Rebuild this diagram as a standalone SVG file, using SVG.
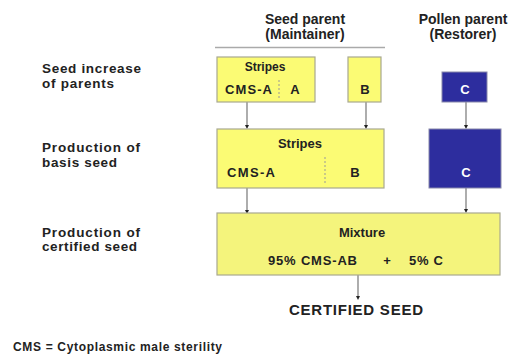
<svg xmlns="http://www.w3.org/2000/svg" width="513" height="356" viewBox="0 0 513 356">
<style>
text{font-family:"Liberation Sans",Arial,sans-serif;font-weight:bold;fill:#222}
.lbl{font-size:13.5px}
.hd{font-size:14px;text-anchor:middle}
.bx{font-size:13px}
.yl{fill:#fbfb74;stroke:#a8a890;stroke-width:1.2}
.yl2{fill:#f4f47c;stroke:#a8a890;stroke-width:1.2}
.bl{fill:#2d2d9e;stroke:#8888aa;stroke-width:1}
.dash{stroke:#999;stroke-width:1;stroke-dasharray:2,2}
.cn{stroke:#777;stroke-width:1.2;fill:none;marker-end:url(#dot)}
</style>
<defs>
<marker id="dot" viewBox="0 0 4 4" refX="2" refY="2" markerWidth="4" markerHeight="4" markerUnits="userSpaceOnUse"><path d="M0,0 L4,0 L2,4 Z" fill="#222"/></marker>
</defs>
<rect width="513" height="356" fill="#fff"/>
<g id="labels">
<text class="lbl" x="42" y="73" textLength="99" lengthAdjust="spacing">Seed increase</text>
<text class="lbl" x="42" y="88" textLength="72" lengthAdjust="spacing">of parents</text>
<text class="lbl" x="42" y="152" textLength="98" lengthAdjust="spacing">Production of</text>
<text class="lbl" x="42" y="167" textLength="75" lengthAdjust="spacing">basis seed</text>
<text class="lbl" x="42" y="237" textLength="98" lengthAdjust="spacing">Production of</text>
<text class="lbl" x="42" y="251" textLength="95" lengthAdjust="spacing">certified seed</text>
<text style="font-size:12px" x="13" y="351" textLength="209" lengthAdjust="spacing">CMS = Cytoplasmic male sterility</text>
</g>
<g id="header-seed">
<text class="hd" x="305" y="24">Seed parent</text>
<text class="hd" x="305" y="39">(Maintainer)</text>
<line x1="215" y1="47.5" x2="385" y2="47.5" stroke="#aaa" stroke-width="1.5"/>
</g>
<g id="header-pollen">
<text class="hd" x="463" y="24">Pollen parent</text>
<text class="hd" x="463" y="39">(Restorer)</text>
</g>
<g id="connectors">
<line class="cn" x1="247" y1="102" x2="247" y2="127"/>
<line class="cn" x1="366" y1="102" x2="366" y2="127"/>
<line class="cn" x1="466" y1="102" x2="466" y2="127"/>
<line class="cn" x1="247" y1="188" x2="247" y2="212"/>
<line class="cn" x1="466" y1="188" x2="466" y2="211"/>
<line class="cn" x1="358" y1="275" x2="358" y2="298"/>
</g>
<g id="node-stripes1">
<rect class="yl" x="217" y="57" width="98" height="45"/>
<text class="bx" x="265" y="71" text-anchor="middle" style="font-size:12px">Stripes</text>
<text class="bx" x="225" y="94" textLength="47" lengthAdjust="spacing">CMS-A</text>
<line class="dash" x1="279" y1="80" x2="279" y2="100"/>
<text class="bx" x="295" y="94" text-anchor="middle">A</text>
</g>
<g id="node-b1">
<rect class="yl" x="348" y="57" width="33" height="45"/>
<text class="bx" x="365" y="94" text-anchor="middle">B</text>
</g>
<g id="node-c1">
<rect class="bl" x="442" y="72" width="45" height="30"/>
<text class="bx" x="465" y="94" text-anchor="middle" style="fill:#fff">C</text>
</g>
<g id="node-stripes2">
<rect class="yl" x="217" y="129" width="167" height="59"/>
<text class="bx" x="300" y="148" text-anchor="middle">Stripes</text>
<text class="bx" x="227" y="177" textLength="48" lengthAdjust="spacing">CMS-A</text>
<line class="dash" x1="325" y1="157" x2="325" y2="183"/>
<text class="bx" x="355" y="177" text-anchor="middle">B</text>
</g>
<g id="node-c2">
<rect class="bl" x="429" y="129" width="72" height="59"/>
<text class="bx" x="466" y="177" text-anchor="middle" style="fill:#fff">C</text>
</g>
<g id="node-mixture">
<rect class="yl2" x="217" y="213" width="283" height="62"/>
<text class="bx" x="362" y="237" text-anchor="middle">Mixture</text>
<text class="bx" x="268" y="265" textLength="89" lengthAdjust="spacing">95% CMS-AB</text>
<text class="bx" x="387" y="265" text-anchor="middle">+</text>
<text class="bx" x="409" y="265" textLength="34" lengthAdjust="spacing">5% C</text>
</g>
<g id="node-certified">
<text x="356" y="315" text-anchor="middle" style="font-size:15px" textLength="134" lengthAdjust="spacing">CERTIFIED SEED</text>
</g>
</svg>
